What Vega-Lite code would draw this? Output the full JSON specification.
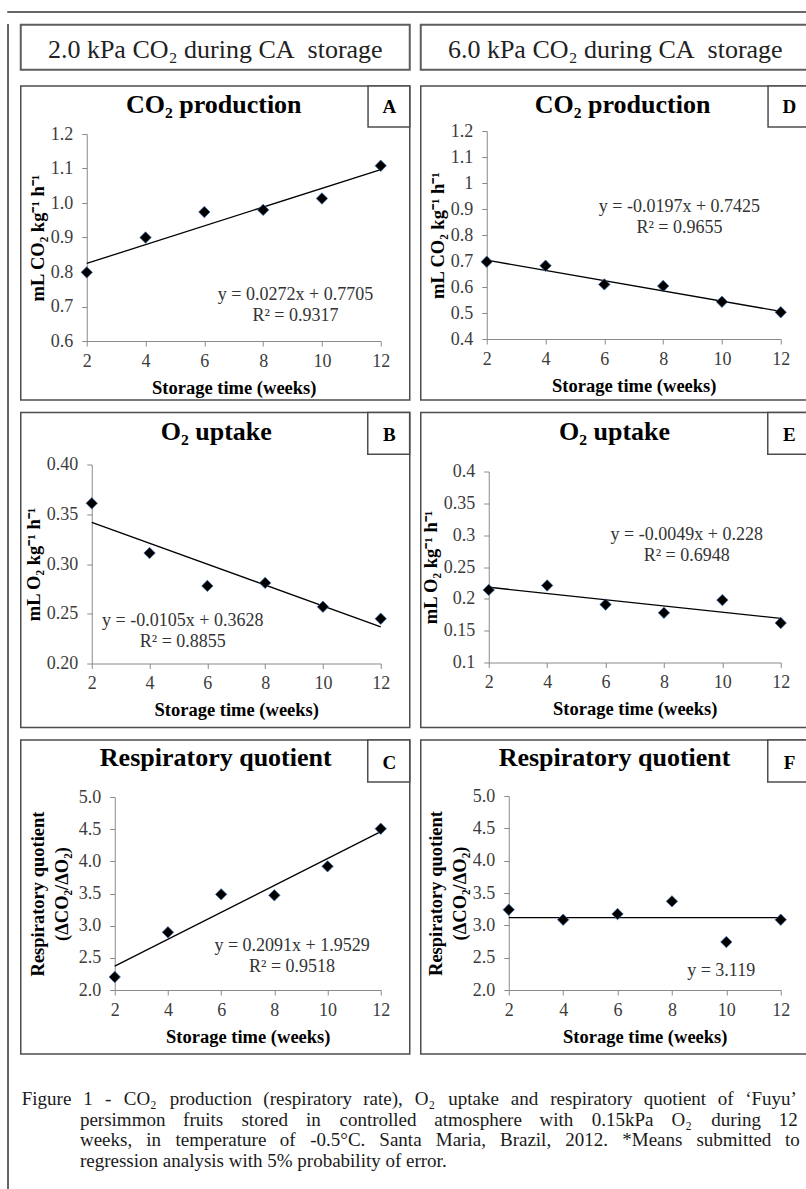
{
  "$schema": "https://vega.github.io/schema/vega-lite/v6.json",
  "padding": {"left": 7, "top": 11, "right": 0, "bottom": 0},
  "background": "white",
  "datasets": {
    "points": [
      {"panel": "A", "week": 2, "value": 0.799}, {"panel": "A", "week": 4, "value": 0.900}, {"panel": "A", "week": 6, "value": 0.974},
      {"panel": "A", "week": 8, "value": 0.980}, {"panel": "A", "week": 10, "value": 1.013}, {"panel": "A", "week": 12, "value": 1.108},
      {"panel": "D", "week": 2, "value": 0.697}, {"panel": "D", "week": 4, "value": 0.682}, {"panel": "D", "week": 6, "value": 0.610},
      {"panel": "D", "week": 8, "value": 0.604}, {"panel": "D", "week": 10, "value": 0.543}, {"panel": "D", "week": 12, "value": 0.503},
      {"panel": "B", "week": 2, "value": 0.361}, {"panel": "B", "week": 4, "value": 0.311}, {"panel": "B", "week": 6, "value": 0.278},
      {"panel": "B", "week": 8, "value": 0.281}, {"panel": "B", "week": 10, "value": 0.257}, {"panel": "B", "week": 12, "value": 0.245},
      {"panel": "E", "week": 2, "value": 0.214}, {"panel": "E", "week": 4, "value": 0.221}, {"panel": "E", "week": 6, "value": 0.191},
      {"panel": "E", "week": 8, "value": 0.178}, {"panel": "E", "week": 10, "value": 0.198}, {"panel": "E", "week": 12, "value": 0.162},
      {"panel": "C", "week": 2, "value": 2.202}, {"panel": "C", "week": 4, "value": 2.897}, {"panel": "C", "week": 6, "value": 3.487},
      {"panel": "C", "week": 8, "value": 3.472}, {"panel": "C", "week": 10, "value": 3.922}, {"panel": "C", "week": 12, "value": 4.507},
      {"panel": "F", "week": 2, "value": 3.242}, {"panel": "F", "week": 4, "value": 3.087}, {"panel": "F", "week": 6, "value": 3.175},
      {"panel": "F", "week": 8, "value": 3.371}, {"panel": "F", "week": 10, "value": 2.742}, {"panel": "F", "week": 12, "value": 3.087}
    ],
    "fits": [
      {"panel": "A", "week": 2, "value": 0.8249}, {"panel": "A", "week": 12, "value": 1.0969},
      {"panel": "D", "week": 2, "value": 0.7031}, {"panel": "D", "week": 12, "value": 0.5061},
      {"panel": "B", "week": 2, "value": 0.3418}, {"panel": "B", "week": 12, "value": 0.2368},
      {"panel": "E", "week": 2, "value": 0.2182}, {"panel": "E", "week": 12, "value": 0.1692},
      {"panel": "C", "week": 2, "value": 2.3711}, {"panel": "C", "week": 12, "value": 4.4621},
      {"panel": "F", "week": 2, "value": 3.119}, {"panel": "F", "week": 12, "value": 3.119}
    ]
  },
  "config": {
    "font": "Liberation Serif",
    "view": {"stroke": "#4d4d4d", "strokeWidth": 1.5},
    "text": {"font": "Liberation Serif"},
    "style": {
      "cap": {"font": "Liberation Serif", "fontSize": 19, "baseline": "alphabetic", "align": "left", "color": "#1a1a1a"},
      "ptitle": {"font": "Liberation Serif", "fontSize": 26, "fontWeight": "bold", "baseline": "alphabetic", "align": "center", "color": "#000000"},
      "letter": {"font": "Liberation Serif", "fontSize": 19, "fontWeight": "bold", "baseline": "alphabetic", "align": "center", "color": "#000000"},
      "eq": {"font": "Liberation Serif", "fontSize": 18, "lineHeight": 21, "baseline": "alphabetic", "align": "center", "color": "#333333"}
    },
    "axis": {
      "grid": false, "domainColor": "#8a8a8a", "tickColor": "#8a8a8a", "tickSize": 5, "domainWidth": 1, "tickWidth": 1,
      "labelFont": "Liberation Serif", "labelFontSize": 18, "labelColor": "#3c3c3c", "labelPadding": 6,
      "labelFlush": false, "labelOverlap": false, "labelBound": false,
      "titleFont": "Liberation Serif", "titleFontSize": 18.5, "titleFontWeight": "bold", "titleColor": "#000000", "titlePadding": 3
    },
    "axisX": {"titlePadding": 8},
    "axisY": {"labelPadding": 9}
  },
  "spacing": 10.75,
  "vconcat": [
    {"width": 805, "height": 0.01, "view": {"stroke": "#333333", "strokeWidth": 1.5}, "data": {"values": [{}]}, "mark": {"type": "point", "opacity": 0, "size": 0}},
    {
      "spacing": 10.75,
      "hconcat": [
        {"width": 0.01, "height": 1165, "view": {"stroke": "#333333", "strokeWidth": 1.5}, "data": {"values": [{}]}, "mark": {"type": "point", "opacity": 0, "size": 0}},
        {
          "spacing": 13.25,
          "vconcat": [
            {
              "spacing": 11,
              "bounds": "flush",
              "hconcat": [
                {"width": 389, "height": 45, "view": {"stroke": "#5e5e5e", "strokeWidth": 2}, "data": {"values": [{}]},
                 "mark": {"type": "text", "text": "2.0 kPa CO₂ during CA\u00a0 storage", "fontSize": 26, "align": "center", "baseline": "alphabetic", "color": "#222222"},
                 "encoding": {"x": {"datum": 0.5, "type": "quantitative", "scale": {"domain": [0, 1]}, "axis": null},
                              "y": {"datum": 0.26, "type": "quantitative", "scale": {"domain": [0, 1]}, "axis": null}}},
                {"width": 389, "height": 45, "view": {"stroke": "#5e5e5e", "strokeWidth": 2}, "data": {"values": [{}]},
                 "mark": {"type": "text", "text": "6.0 kPa CO₂ during CA\u00a0 storage", "fontSize": 26, "align": "center", "baseline": "alphabetic", "color": "#222222"},
                 "encoding": {"x": {"datum": 0.5, "type": "quantitative", "scale": {"domain": [0, 1]}, "axis": null},
                              "y": {"datum": 0.26, "type": "quantitative", "scale": {"domain": [0, 1]}, "axis": null}}}
              ]
            },
            {
              "spacing": 9.5,
              "vconcat": [
                {
                  "spacing": 11,
                  "bounds": "flush",
                  "hconcat": [
                    {
                      "width": 389, "height": 314,
                      "layer": [
                        {"data": {"name": "fits"}, "transform": [{"filter": "datum.panel === 'A'"}],
                         "mark": {"type": "line", "color": "#000000", "strokeWidth": 1.3},
                         "encoding": {
                           "x": {"field": "week", "type": "quantitative", "scale": {"domain": [2, 12], "range": [66, 360], "nice": false, "zero": false},
                                 "axis": {"values": [2, 4, 6, 8, 10, 12], "tickCount": 20, "format": "d", "offset": -59, "labelOverlap": false, "title": "Storage time (weeks)"}},
                           "y": {"field": "value", "type": "quantitative", "scale": {"domain": [0.6, 1.2], "range": [255, 48], "nice": false, "zero": false},
                                 "axis": {"values": [0.6, 0.7, 0.8, 0.9, 1.0, 1.1, 1.2], "tickCount": 20, "format": ".1f", "offset": -66, "labelOverlap": false, "title": "mL CO₂ kg⁻¹ h⁻¹"}}}},
                        {"data": {"name": "points"}, "transform": [{"filter": "datum.panel === 'A'"}],
                         "mark": {"type": "point", "shape": "diamond", "filled": true, "size": 130, "fill": "#000000", "stroke": "#3b6aa8", "strokeWidth": 0.7, "opacity": 1},
                         "encoding": {"x": {"field": "week", "type": "quantitative"}, "y": {"field": "value", "type": "quantitative"}}},
                        {"data": {"values": [{}]}, "mark": {"type": "rect", "fill": "#ffffff", "stroke": "#4d4d4d", "strokeWidth": 1.5},
                         "encoding": {"x": {"datum": 11.568}, "x2": {"datum": 12.986}, "y": {"datum": 1.339}, "y2": {"datum": 1.2203}}},
                        {"data": {"values": [{}]}, "mark": {"type": "text", "style": "letter", "text": "A"},
                         "encoding": {"x": {"datum": 12.296}, "y": {"datum": 1.261}}},
                        {"data": {"values": [{}]}, "mark": {"type": "text", "style": "ptitle", "text": "CO₂ production"},
                         "encoding": {"x": {"datum": 6.32}, "y": {"datum": 1.26}}},
                        {"data": {"values": [{}]}, "mark": {"type": "text", "style": "eq", "text": ["y = 0.0272x + 0.7705", "R² = 0.9317"]},
                         "encoding": {"x": {"datum": 9.10}, "y": {"datum": 0.719}}}
                      ]
                    },
                    {
                      "width": 389, "height": 314,
                      "layer": [
                        {"data": {"name": "fits"}, "transform": [{"filter": "datum.panel === 'D'"}],
                         "mark": {"type": "line", "color": "#000000", "strokeWidth": 1.3},
                         "encoding": {
                           "x": {"field": "week", "type": "quantitative", "scale": {"domain": [2, 12], "range": [66, 360], "nice": false, "zero": false},
                                 "axis": {"values": [2, 4, 6, 8, 10, 12], "tickCount": 20, "format": "d", "offset": -61, "labelOverlap": false, "title": "Storage time (weeks)"}},
                           "y": {"field": "value", "type": "quantitative", "scale": {"domain": [0.4, 1.2], "range": [253, 45], "nice": false, "zero": false},
                                 "axis": {"values": [0.4, 0.5, 0.6, 0.7, 0.8, 0.9, 1, 1.1, 1.2], "tickCount": 20, "format": "~g", "offset": -66, "labelOverlap": false, "title": "mL CO₂ kg⁻¹ h⁻¹"}}}},
                        {"data": {"name": "points"}, "transform": [{"filter": "datum.panel === 'D'"}],
                         "mark": {"type": "point", "shape": "diamond", "filled": true, "size": 130, "fill": "#000000", "stroke": "#3b6aa8", "strokeWidth": 0.7, "opacity": 1},
                         "encoding": {"x": {"field": "week", "type": "quantitative"}, "y": {"field": "value", "type": "quantitative"}}},
                        {"data": {"values": [{}]}, "mark": {"type": "rect", "fill": "#ffffff", "stroke": "#4d4d4d", "strokeWidth": 1.5},
                         "encoding": {"x": {"datum": 11.568}, "x2": {"datum": 12.986}, "y": {"datum": 1.373}, "y2": {"datum": 1.2154}}},
                        {"data": {"values": [{}]}, "mark": {"type": "text", "style": "letter", "text": "D"},
                         "encoding": {"x": {"datum": 12.296}, "y": {"datum": 1.269}}},
                        {"data": {"values": [{}]}, "mark": {"type": "text", "style": "ptitle", "text": "CO₂ production"},
                         "encoding": {"x": {"datum": 6.62}, "y": {"datum": 1.269}}},
                        {"data": {"values": [{}]}, "mark": {"type": "text", "style": "eq", "text": ["y = -0.0197x + 0.7425", "R² = 0.9655"]},
                         "encoding": {"x": {"datum": 8.554}, "y": {"datum": 0.8896}}}
                      ]
                    }
                  ]
                },
                {
                  "spacing": 11,
                  "bounds": "flush",
                  "hconcat": [
                    {
                      "width": 389, "height": 315,
                      "layer": [
                        {"data": {"name": "fits"}, "transform": [{"filter": "datum.panel === 'B'"}],
                         "mark": {"type": "line", "color": "#000000", "strokeWidth": 1.3},
                         "encoding": {
                           "x": {"field": "week", "type": "quantitative", "scale": {"domain": [2, 12], "range": [71, 360], "nice": false, "zero": false},
                                 "axis": {"values": [2, 4, 6, 8, 10, 12], "tickCount": 20, "format": "d", "offset": -64, "labelOverlap": false, "title": "Storage time (weeks)"}},
                           "y": {"field": "value", "type": "quantitative", "scale": {"domain": [0.2, 0.4], "range": [251, 52], "nice": false, "zero": false},
                                 "axis": {"values": [0.2, 0.25, 0.3, 0.35, 0.4], "tickCount": 20, "format": ".2f", "offset": -71, "labelOverlap": false, "title": "mL O₂ kg⁻¹ h⁻¹"}}}},
                        {"data": {"name": "points"}, "transform": [{"filter": "datum.panel === 'B'"}],
                         "mark": {"type": "point", "shape": "diamond", "filled": true, "size": 130, "fill": "#000000", "stroke": "#3b6aa8", "strokeWidth": 0.7, "opacity": 1},
                         "encoding": {"x": {"field": "week", "type": "quantitative"}, "y": {"field": "value", "type": "quantitative"}}},
                        {"data": {"values": [{}]}, "mark": {"type": "rect", "fill": "#ffffff", "stroke": "#4d4d4d", "strokeWidth": 1.5},
                         "encoding": {"x": {"datum": 11.55}, "x2": {"datum": 13.0}, "y": {"datum": 0.4523}, "y2": {"datum": 0.4104}}},
                        {"data": {"values": [{}]}, "mark": {"type": "text", "style": "letter", "text": "B"},
                         "encoding": {"x": {"datum": 12.30}, "y": {"datum": 0.4238}}},
                        {"data": {"values": [{}]}, "mark": {"type": "text", "style": "ptitle", "text": "O₂ uptake"},
                         "encoding": {"x": {"datum": 6.308}, "y": {"datum": 0.4248}}},
                        {"data": {"values": [{}]}, "mark": {"type": "text", "style": "eq", "text": ["y = -0.0105x + 0.3628", "R² = 0.8855"]},
                         "encoding": {"x": {"datum": 5.149}, "y": {"datum": 0.2372}}}
                      ]
                    },
                    {
                      "width": 389, "height": 315,
                      "layer": [
                        {"data": {"name": "fits"}, "transform": [{"filter": "datum.panel === 'E'"}],
                         "mark": {"type": "line", "color": "#000000", "strokeWidth": 1.3},
                         "encoding": {
                           "x": {"field": "week", "type": "quantitative", "scale": {"domain": [2, 12], "range": [68, 360], "nice": false, "zero": false},
                                 "axis": {"values": [2, 4, 6, 8, 10, 12], "tickCount": 20, "format": "d", "offset": -65, "labelOverlap": false, "title": "Storage time (weeks)"}},
                           "y": {"field": "value", "type": "quantitative", "scale": {"domain": [0.1, 0.4], "range": [250, 59], "nice": false, "zero": false},
                                 "axis": {"values": [0.1, 0.15, 0.2, 0.25, 0.3, 0.35, 0.4], "tickCount": 20, "format": "~g", "offset": -68, "labelOverlap": false, "title": "mL O₂ kg⁻¹ h⁻¹"}}}},
                        {"data": {"name": "points"}, "transform": [{"filter": "datum.panel === 'E'"}],
                         "mark": {"type": "point", "shape": "diamond", "filled": true, "size": 130, "fill": "#000000", "stroke": "#3b6aa8", "strokeWidth": 0.7, "opacity": 1},
                         "encoding": {"x": {"field": "week", "type": "quantitative"}, "y": {"field": "value", "type": "quantitative"}}},
                        {"data": {"values": [{}]}, "mark": {"type": "rect", "fill": "#ffffff", "stroke": "#4d4d4d", "strokeWidth": 1.5},
                         "encoding": {"x": {"datum": 11.555}, "x2": {"datum": 12.993}, "y": {"datum": 0.4926}, "y2": {"datum": 0.4272}}},
                        {"data": {"values": [{}]}, "mark": {"type": "text", "style": "letter", "text": "E"},
                         "encoding": {"x": {"datum": 12.298}, "y": {"datum": 0.4482}}},
                        {"data": {"values": [{}]}, "mark": {"type": "text", "style": "ptitle", "text": "O₂ uptake"},
                         "encoding": {"x": {"datum": 6.308}, "y": {"datum": 0.4498}}},
                        {"data": {"values": [{}]}, "mark": {"type": "text", "style": "eq", "text": ["y = -0.0049x + 0.228", "R² = 0.6948"]},
                         "encoding": {"x": {"datum": 8.78}, "y": {"datum": 0.2927}}}
                      ]
                    }
                  ]
                },
                {
                  "spacing": 11,
                  "bounds": "flush",
                  "hconcat": [
                    {
                      "width": 389, "height": 314,
                      "layer": [
                        {"data": {"name": "fits"}, "transform": [{"filter": "datum.panel === 'C'"}],
                         "mark": {"type": "line", "color": "#000000", "strokeWidth": 1.3},
                         "encoding": {
                           "x": {"field": "week", "type": "quantitative", "scale": {"domain": [2, 12], "range": [94, 360], "nice": false, "zero": false},
                                 "axis": {"values": [2, 4, 6, 8, 10, 12], "tickCount": 20, "format": "d", "offset": -64, "labelOverlap": false, "title": "Storage time (weeks)"}},
                           "y": {"field": "value", "type": "quantitative", "scale": {"domain": [2, 5], "range": [250, 57], "nice": false, "zero": false},
                                 "axis": {"values": [2, 2.5, 3, 3.5, 4, 4.5, 5], "tickCount": 20, "format": ".1f", "offset": -94, "labelOverlap": false, "title": ["Respiratory quotient", "(ΔCO₂/ΔO₂)"], "titleLineHeight": 24, "titlePadding": 7}}}},
                        {"data": {"name": "points"}, "transform": [{"filter": "datum.panel === 'C'"}],
                         "mark": {"type": "point", "shape": "diamond", "filled": true, "size": 130, "fill": "#000000", "stroke": "#3b6aa8", "strokeWidth": 0.7, "opacity": 1},
                         "encoding": {"x": {"field": "week", "type": "quantitative"}, "y": {"field": "value", "type": "quantitative"}}},
                        {"data": {"values": [{}]}, "mark": {"type": "rect", "fill": "#ffffff", "stroke": "#4d4d4d", "strokeWidth": 1.5},
                         "encoding": {"x": {"datum": 11.511}, "x2": {"datum": 13.09}, "y": {"datum": 5.886}, "y2": {"datum": 5.233}}},
                        {"data": {"values": [{}]}, "mark": {"type": "text", "style": "letter", "text": "C"},
                         "encoding": {"x": {"datum": 12.327}, "y": {"datum": 5.435}}},
                        {"data": {"values": [{}]}, "mark": {"type": "text", "style": "ptitle", "text": "Respiratory quotient"},
                         "encoding": {"x": {"datum": 5.797}, "y": {"datum": 5.477}}},
                        {"data": {"values": [{}]}, "mark": {"type": "text", "style": "eq", "text": ["y = 0.2091x + 1.9529", "R² = 0.9518"]},
                         "encoding": {"x": {"datum": 8.666}, "y": {"datum": 2.602}}}
                      ]
                    },
                    {
                      "width": 389, "height": 314,
                      "layer": [
                        {"data": {"name": "fits"}, "transform": [{"filter": "datum.panel === 'F'"}],
                         "mark": {"type": "line", "color": "#000000", "strokeWidth": 1.3},
                         "encoding": {
                           "x": {"field": "week", "type": "quantitative", "scale": {"domain": [2, 12], "range": [88, 360], "nice": false, "zero": false},
                                 "axis": {"values": [2, 4, 6, 8, 10, 12], "tickCount": 20, "format": "d", "offset": -64, "labelOverlap": false, "title": "Storage time (weeks)"}},
                           "y": {"field": "value", "type": "quantitative", "scale": {"domain": [2, 5], "range": [250, 56], "nice": false, "zero": false},
                                 "axis": {"values": [2, 2.5, 3, 3.5, 4, 4.5, 5], "tickCount": 20, "format": ".1f", "offset": -88, "labelOverlap": false, "title": ["Respiratory quotient", "(ΔCO₂/ΔO₂)"], "titleLineHeight": 24, "titlePadding": 3}}}},
                        {"data": {"name": "points"}, "transform": [{"filter": "datum.panel === 'F'"}],
                         "mark": {"type": "point", "shape": "diamond", "filled": true, "size": 130, "fill": "#000000", "stroke": "#3b6aa8", "strokeWidth": 0.7, "opacity": 1},
                         "encoding": {"x": {"field": "week", "type": "quantitative"}, "y": {"field": "value", "type": "quantitative"}}},
                        {"data": {"values": [{}]}, "mark": {"type": "rect", "fill": "#ffffff", "stroke": "#4d4d4d", "strokeWidth": 1.5},
                         "encoding": {"x": {"datum": 11.522}, "x2": {"datum": 13.066}, "y": {"datum": 5.866}, "y2": {"datum": 5.216}}},
                        {"data": {"values": [{}]}, "mark": {"type": "text", "style": "letter", "text": "F"},
                         "encoding": {"x": {"datum": 12.32}, "y": {"datum": 5.417}}},
                        {"data": {"values": [{}]}, "mark": {"type": "text", "style": "ptitle", "text": "Respiratory quotient"},
                         "encoding": {"x": {"datum": 5.89}, "y": {"datum": 5.459}}},
                        {"data": {"values": [{}]}, "mark": {"type": "text", "style": "eq", "text": "y = 3.119"},
                         "encoding": {"x": {"datum": 9.81}, "y": {"datum": 2.212}}}
                      ]
                    }
                  ]
                }
              ]
            },
            {
              "width": 789, "height": 120,
              "view": {"stroke": "transparent", "strokeWidth": 0},
              "data": {"values": [{}]},
              "layer": [
                {"mark": {"type": "text", "style": "cap", "text": "Figure"},
                 "encoding": {"x": {"datum": 1, "type": "quantitative", "scale": {"domain": [0, 789], "range": [0, 789]}, "axis": null},
                              "y": {"datum": 37, "type": "quantitative", "scale": {"domain": [0, 120], "range": [0, 120]}, "axis": null}}},
                {"mark": {"type": "text", "style": "cap", "text": "1"}, "encoding": {"x": {"datum": 63.3}, "y": {"datum": 37}}},
                {"mark": {"type": "text", "style": "cap", "text": "-"}, "encoding": {"x": {"datum": 85.4}, "y": {"datum": 37}}},
                {"mark": {"type": "text", "style": "cap", "text": "CO₂"}, "encoding": {"x": {"datum": 104.4}, "y": {"datum": 37}}},
                {"mark": {"type": "text", "style": "cap", "text": "production"}, "encoding": {"x": {"datum": 151}, "y": {"datum": 37}}},
                {"mark": {"type": "text", "style": "cap", "text": "(respiratory"}, "encoding": {"x": {"datum": 246}, "y": {"datum": 37}}},
                {"mark": {"type": "text", "style": "cap", "text": "rate),"}, "encoding": {"x": {"datum": 347.2}, "y": {"datum": 37}}},
                {"mark": {"type": "text", "style": "cap", "text": "O₂"}, "encoding": {"x": {"datum": 399.5}, "y": {"datum": 37}}},
                {"mark": {"type": "text", "style": "cap", "text": "uptake"}, "encoding": {"x": {"datum": 433.4}, "y": {"datum": 37}}},
                {"mark": {"type": "text", "style": "cap", "text": "and"}, "encoding": {"x": {"datum": 496.8}, "y": {"datum": 37}}},
                {"mark": {"type": "text", "style": "cap", "text": "respiratory"}, "encoding": {"x": {"datum": 536.8}, "y": {"datum": 37}}},
                {"mark": {"type": "text", "style": "cap", "text": "quotient"}, "encoding": {"x": {"datum": 631.8}, "y": {"datum": 37}}},
                {"mark": {"type": "text", "style": "cap", "text": "of"}, "encoding": {"x": {"datum": 706.7}, "y": {"datum": 37}}},
                {"mark": {"type": "text", "style": "cap", "text": "‘Fuyu’", "align": "right"}, "encoding": {"x": {"datum": 787}, "y": {"datum": 37}}},
                {"mark": {"type": "text", "style": "cap", "text": "persimmon"}, "encoding": {"x": {"datum": 60}, "y": {"datum": 57.5}}},
                {"mark": {"type": "text", "style": "cap", "text": "fruits"}, "encoding": {"x": {"datum": 164.6}, "y": {"datum": 57.5}}},
                {"mark": {"type": "text", "style": "cap", "text": "stored"}, "encoding": {"x": {"datum": 223.8}, "y": {"datum": 57.5}}},
                {"mark": {"type": "text", "style": "cap", "text": "in"}, "encoding": {"x": {"datum": 289.3}, "y": {"datum": 57.5}}},
                {"mark": {"type": "text", "style": "cap", "text": "controlled"}, "encoding": {"x": {"datum": 323.2}, "y": {"datum": 57.5}}},
                {"mark": {"type": "text", "style": "cap", "text": "atmosphere"}, "encoding": {"x": {"datum": 419.3}, "y": {"datum": 57.5}}},
                {"mark": {"type": "text", "style": "cap", "text": "with"}, "encoding": {"x": {"datum": 526}, "y": {"datum": 57.5}}},
                {"mark": {"type": "text", "style": "cap", "text": "0.15kPa"}, "encoding": {"x": {"datum": 578.9}, "y": {"datum": 57.5}}},
                {"mark": {"type": "text", "style": "cap", "text": "O₂"}, "encoding": {"x": {"datum": 659.8}, "y": {"datum": 57.5}}},
                {"mark": {"type": "text", "style": "cap", "text": "during"}, "encoding": {"x": {"datum": 700.2}, "y": {"datum": 57.5}}},
                {"mark": {"type": "text", "style": "cap", "text": "12", "align": "right"}, "encoding": {"x": {"datum": 787.9}, "y": {"datum": 57.5}}},
                {"mark": {"type": "text", "style": "cap", "text": "weeks,"}, "encoding": {"x": {"datum": 60}, "y": {"datum": 78}}},
                {"mark": {"type": "text", "style": "cap", "text": "in"}, "encoding": {"x": {"datum": 127.2}, "y": {"datum": 78}}},
                {"mark": {"type": "text", "style": "cap", "text": "temperature"}, "encoding": {"x": {"datum": 157}, "y": {"datum": 78}}},
                {"mark": {"type": "text", "style": "cap", "text": "of"}, "encoding": {"x": {"datum": 262.7}, "y": {"datum": 78}}},
                {"mark": {"type": "text", "style": "cap", "text": "-0.5°C."}, "encoding": {"x": {"datum": 293.5}, "y": {"datum": 78}}},
                {"mark": {"type": "text", "style": "cap", "text": "Santa"}, "encoding": {"x": {"datum": 363.6}, "y": {"datum": 78}}},
                {"mark": {"type": "text", "style": "cap", "text": "Maria,"}, "encoding": {"x": {"datum": 420.8}, "y": {"datum": 78}}},
                {"mark": {"type": "text", "style": "cap", "text": "Brazil,"}, "encoding": {"x": {"datum": 485.9}, "y": {"datum": 78}}},
                {"mark": {"type": "text", "style": "cap", "text": "2012."}, "encoding": {"x": {"datum": 552.1}, "y": {"datum": 78}}},
                {"mark": {"type": "text", "style": "cap", "text": "*Means"}, "encoding": {"x": {"datum": 609.9}, "y": {"datum": 78}}},
                {"mark": {"type": "text", "style": "cap", "text": "submitted"}, "encoding": {"x": {"datum": 685.1}, "y": {"datum": 78}}},
                {"mark": {"type": "text", "style": "cap", "text": "to", "align": "right"}, "encoding": {"x": {"datum": 789.9}, "y": {"datum": 78}}},
                {"mark": {"type": "text", "style": "cap", "text": "regression analysis with 5% probability of error."}, "encoding": {"x": {"datum": 60}, "y": {"datum": 98.5}}}
              ]
            }
          ]
        }
      ]
    }
  ]
}
